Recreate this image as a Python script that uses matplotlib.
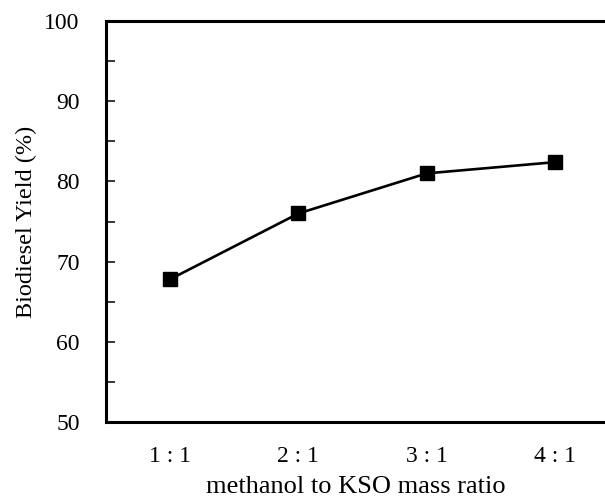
import matplotlib
matplotlib.use("Agg")
import matplotlib.pyplot as plt
from matplotlib.ticker import MultipleLocator

# 値は図から読み取り
ratios = ["1 : 1", "2 : 1", "3 : 1", "4 : 1"]
yield_pct = [67.8, 76.0, 81.0, 82.4]

plt.rcParams["font.family"] = ["Liberation Serif", "DejaVu Serif"]

fig = plt.figure(figsize=(6.05, 5.01), dpi=100)
ax = fig.add_axes([106 / 605, 1 - 422 / 501, 1 - 106 / 605, (422 - 21) / 501])

x = list(range(len(ratios)))
ax.plot(x, yield_pct, color="black", linewidth=1.9, marker="s", markersize=10)

ax.set_xlim(-0.5, 3.39)
ax.set_ylim(50, 100)
ax.set_xticks(x)
ax.set_xticklabels(ratios)
ax.yaxis.set_major_locator(MultipleLocator(10))
ax.yaxis.set_minor_locator(MultipleLocator(5))

for side in ["left", "top", "bottom"]:
    ax.spines[side].set_linewidth(2.2)
ax.spines["right"].set_visible(False)

ax.tick_params(axis="y", which="both", direction="in", length=6.5, width=1.1,
               labelsize=17, pad=19, right=False)
ax.tick_params(axis="x", length=0, labelsize=17, pad=17)

ax.set_xlabel("methanol to KSO mass ratio", fontsize=19, labelpad=7)
ax.set_ylabel("Biodiesel Yield (%)", fontsize=17.5, labelpad=5)

fig.savefig("out.png", dpi=100)
plt.close(fig)
